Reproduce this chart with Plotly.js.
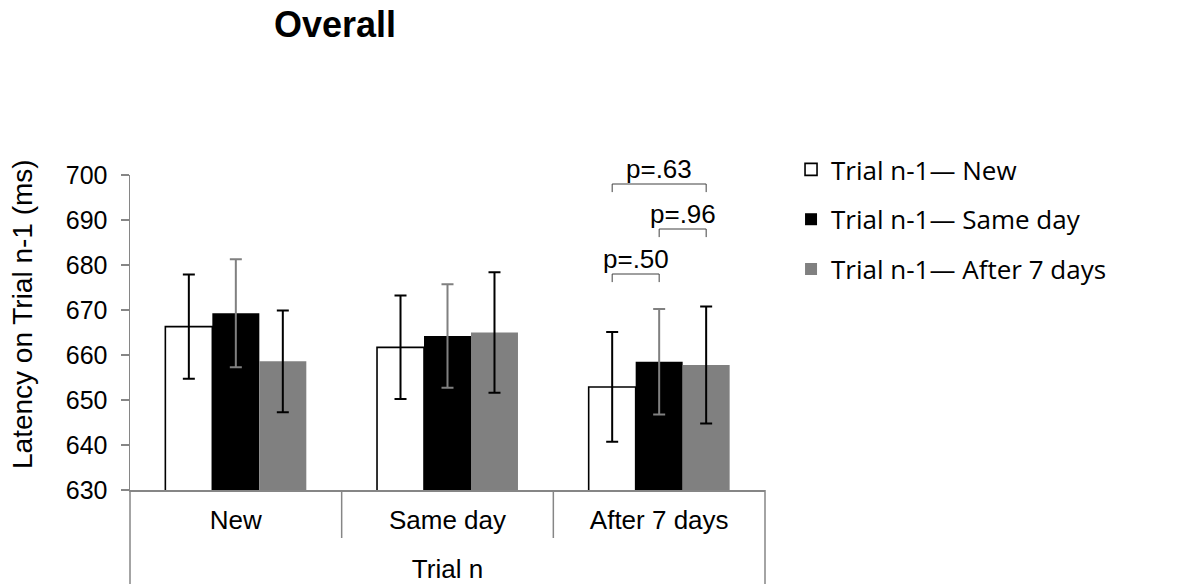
<!DOCTYPE html>
<html>
<head>
<meta charset="utf-8">
<script src="https://cdn.plot.ly/plotly-3.0.1.min.js"></script>
<style>
  html, body { margin: 0; padding: 0; background: #ffffff; }
  #chart { width: 1192px; height: 584px; }
</style>
</head>
<body>
<div id="chart"></div>
<script>
// Trial n categories on the x axis
const categories = ["New", "Same day", "After 7 days"];

// Trial n-1 series: mean latency (ms) and error half-widths
const seriesNames = ["Trial n-1\u2014 New", "Trial n-1\u2014 Same day", "Trial n-1\u2014 After 7 days"];
const meanNew = [666.3, 661.7, 652.9];
const errNew = [11.6, 11.5, 12.2];
const meanSame = [669.3, 664.2, 658.5];
const errSame = [12.0, 11.5, 11.7];
const meanAfter = [658.6, 665.0, 657.8];
const errAfter = [11.3, 13.4, 13.0];

// y axis ticks
const yTicks = [630, 640, 650, 660, 670, 680, 690, 700];

// pairwise comparisons within "After 7 days"
const pLabels = ["p=.50", "p=.96", "p=.63"];
const pPairs = [[0, 1], [1, 2], [0, 2]];
const pLevels = [678, 688, 698];

const ARIAL = "Liberation Sans, Arial, sans-serif";
const AXIS_GREY = "#868686";
const BARGAP = 0.334;

const means = [meanNew, meanSame, meanAfter];
const errs = [errNew, errSame, errAfter];
const fills = ["#ffffff", "#000000", "#808080"];
const outlines = ["#000000", "#000000", "#808080"];
const outlineWidths = [1.6, 0, 0];
const errColors = ["#000000", "#808080", "#000000"];

const traces = means.map((m, i) => ({
  type: "bar",
  name: seriesNames[i],
  legendgroup: "g" + i,
  x: categories,
  y: m,
  marker: { color: fills[i], line: { color: outlines[i], width: outlineWidths[i] } },
  error_y: { type: "data", array: errs[i], visible: true, color: errColors[i], thickness: 2, width: 6 },
  hoverinfo: "skip"
}));

// bracket x position of series s inside category c (category index units)
const barW = (1 - BARGAP) / 3;
const seriesX = (c, s) => c + (s - 1) * barW;
const cIdx = categories.indexOf("After 7 days");
const drop = 1.8;

const shapes = [];
const annotations = [];
pPairs.forEach((pair, k) => {
  const xa = seriesX(cIdx, pair[0]);
  const xb = seriesX(cIdx, pair[1]);
  const yv = pLevels[k];
  const ln = { color: "#404040", width: 1 };
  shapes.push({ type: "line", xref: "x", yref: "y", x0: xa, x1: xb, y0: yv, y1: yv, line: ln });
  shapes.push({ type: "line", xref: "x", yref: "y", x0: xa, x1: xa, y0: yv, y1: yv - drop, line: ln });
  shapes.push({ type: "line", xref: "x", yref: "y", x0: xb, x1: xb, y0: yv, y1: yv - drop, line: ln });
  annotations.push({
    xref: "x", yref: "y", x: (xa + xb) / 2, y: yv,
    text: pLabels[k], showarrow: false, xanchor: "center", yanchor: "bottom",
    yshift: -2,
    font: { family: ARIAL, size: 26, color: "#000000" }
  });
});

// y axis title, placed beside the tick labels
const plotW = 1192 - 130 - 427;
const plotH = 584 - 175 - 94;
annotations.push({
  xref: "paper", yref: "paper",
  x: (22 - 130) / plotW, y: (490 - 314) / plotH,
  xanchor: "center", yanchor: "middle",
  textangle: -90,
  text: "Latency on Trial n-1 (ms)", showarrow: false,
  font: { family: ARIAL, size: 28, color: "#000000" }
});

// category frame below the axis: outer verticals run to the bottom, inner ones stop above "Trial n"
const innerBottom = -(538 - 490) / plotH;
const outerBottom = -(584 - 490) / plotH;
[0, 1 / 3, 2 / 3, 1].forEach((px, i) => {
  const outer = (i === 0 || i === 3);
  shapes.push({
    type: "line", xref: "paper", yref: "paper",
    x0: px, x1: px, y0: 0, y1: outer ? outerBottom : innerBottom,
    line: { color: AXIS_GREY, width: 1.5 }
  });
});

const layout = {
  width: 1192,
  height: 584,
  margin: { l: 130, r: 427, t: 175, b: 94, pad: 0 },
  paper_bgcolor: "#ffffff",
  plot_bgcolor: "#ffffff",
  font: { family: ARIAL, color: "#000000" },
  title: {
    text: "<b>Overall</b>",
    font: { family: ARIAL, size: 36, color: "#000000" },
    xref: "container", yref: "container",
    x: 335 / 1192, xanchor: "center",
    y: 1 - 24 / 584, yanchor: "middle"
  },
  barmode: "group",
  bargap: BARGAP,
  bargroupgap: 0,
  showlegend: true,
  legend: {
    x: 1.041, xanchor: "left",
    y: 1.092, yanchor: "top",
    font: { family: "Open Sans, sans-serif", size: 26, color: "#000000" },
    tracegroupgap: 13,
    traceorder: "grouped",
    bgcolor: "rgba(0,0,0,0)"
  },
  xaxis: {
    type: "category",
    categoryorder: "array",
    categoryarray: categories,
    showline: true,
    linecolor: AXIS_GREY,
    linewidth: 1.5,
    ticks: "",
    showgrid: false,
    zeroline: false,
    tickfont: { family: ARIAL, size: 26, color: "#000000" },
    ticklabelstandoff: 6,
    title: { text: "Trial n", font: { family: ARIAL, size: 26, color: "#000000" }, standoff: 27 },
    automargin: false,
    fixedrange: true
  },
  yaxis: {
    range: [630, 700],
    tickvals: yTicks,
    ticktext: yTicks.map(String),
    showline: true,
    linecolor: AXIS_GREY,
    linewidth: 1.5,
    ticks: "outside",
    ticklen: 8,
    tickwidth: 1.5,
    tickcolor: AXIS_GREY,
    showgrid: false,
    zeroline: false,
    tickfont: { family: ARIAL, size: 25, color: "#000000" },
    ticklabelstandoff: 8,
    automargin: false,
    fixedrange: true
  },
  shapes: shapes,
  annotations: annotations
};

Plotly.newPlot("chart", traces, layout, { displayModeBar: false, staticPlot: true });
</script>
</body>
</html>
